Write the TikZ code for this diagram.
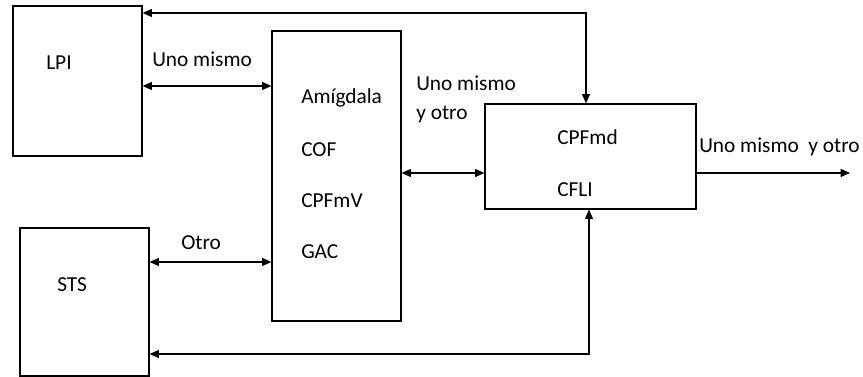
\documentclass[tikz,border=0pt]{standalone}
\usepackage{fontspec}
\setmainfont{Carlito}
\usetikzlibrary{arrows.meta}
\begin{document}
\begin{tikzpicture}[x=0.75pt,y=-0.75pt,
  box/.style={draw, line width=0.9pt, inner sep=0pt, minimum width=96.75pt},
  lbl/.style={anchor=base west, inner sep=0pt, font=\fontsize{16}{19}\selectfont},
  arr/.style={line width=0.9pt, {Triangle[length=7pt,width=6pt]}-{Triangle[length=7pt,width=6pt]}},
  arrone/.style={line width=0.9pt, -{Triangle[length=7pt,width=6pt]}}]
\useasboundingbox (0,0) rectangle (863,377);
% boxes
\node[box, minimum height=112.5pt] (lpi) at (77.5,81) {};
\node[box, minimum height=217.5pt] (mid) at (336.5,176) {};
\node[box, minimum height=111pt] (sts) at (84.5,302) {};
\node[box, minimum width=158.25pt, minimum height=78.75pt] (cpf) at (590.5,156.5) {};
% texts
\node[lbl] (tlpi) at (46,70) {LPI};
\node[lbl] (tsts) at (57,292) {STS};
\node[lbl] (tuno) at (152,67) {Uno mismo};
\node[lbl] (totro) at (181,250) {Otro};
\node[lbl] (tamg) at (301,104) {Amígdala};
\node[lbl] (tcof) at (301,157) {COF};
\node[lbl] (tcpfmv) at (301,208) {CPFmV};
\node[lbl] (tgac) at (301,259) {GAC};
\node[lbl] (tu2a) at (416,91) {Uno mismo};
\node[lbl] (tu2b) at (416,120) {y otro};
\node[lbl] (tcpfmd) at (557,145) {CPFmd};
\node[lbl] (tcfli) at (557,197) {CFLI};
\node[lbl] (tout) at (699,153) {Uno mismo\ \ y otro};
% connector coordinates
\coordinate (tc) at (586,13);
\coordinate (bc) at (589,354);
\coordinate (a1) at (0,86);
\coordinate (a2) at (0,262);
\coordinate (a3) at (0,173);
\coordinate (oe) at (850,173);
% connectors
\draw[arr] (lpi.east |- tc) -- (tc) -- (tc |- cpf.north);
\draw[arr] (sts.east |- bc) -- (bc) -- (bc |- cpf.south);
\draw[arr] (lpi.east |- a1) -- (mid.west |- a1);
\draw[arr] (sts.east |- a2) -- (mid.west |- a2);
\draw[arr] (mid.east |- a3) -- (cpf.west |- a3);
\draw[arrone] (cpf.east |- oe) -- (oe);
\end{tikzpicture}
\end{document}
